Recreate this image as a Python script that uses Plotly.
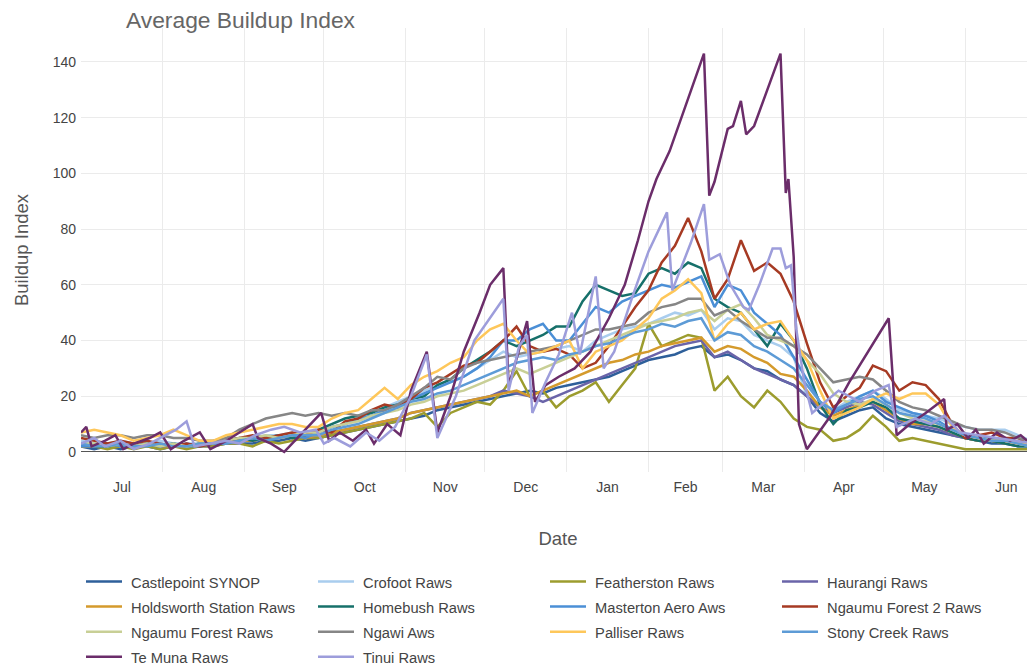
import pandas as pd
import plotly.graph_objects as go

# ---------------- data ----------------
start_date = "2018-07-01"
step = "5D"
n_points = 73

castlepoint = [2,1,2,1,2,2,1,2,2,2,2,3,3,3,4,4,5,4,5,6,7,8,9,10,11,12,13,15,16,17,18,19,20,21,22,21,23,24,25,26,27,29,31,33,34,35,37,38,34,35,33,30,29,26,24,20,14,11,13,15,16,12,10,9,8,7,6,5,4,3,3,2,2]
crofoot = [4,3,3,4,3,3,4,3,3,3,3,4,5,5,6,6,7,6,7,9,10,12,14,16,18,20,22,24,25,27,30,33,36,34,35,36,37,38,36,40,42,44,45,46,48,50,49,51,44,48,47,42,40,38,34,20,17,15,18,20,22,19,15,14,13,12,10,9,8,8,8,6,4]
featherston = [2,2,1,2,1,2,1,2,1,2,2,3,3,2,4,3,4,5,5,6,7,8,9,10,11,12,14,9,14,16,18,17,22,29,20,22,16,20,22,25,18,24,30,46,38,40,42,41,22,27,20,16,22,18,12,9,8,4,5,8,13,9,4,5,4,3,2,1,1,1,1,1,1]
haurangi = [3,2,3,2,2,3,2,2,3,2,3,3,4,4,5,5,6,5,6,7,8,9,10,11,12,14,15,16,17,18,19,20,22,21,20,18,20,22,24,26,28,30,32,34,36,38,39,40,34,36,33,30,28,26,24,20,16,14,16,18,17,14,11,10,9,8,6,5,4,4,3,3,2]
holdsworth = [2,2,3,2,2,3,2,2,2,3,3,3,4,4,5,5,6,5,6,7,8,9,10,11,12,14,15,16,17,18,19,20,21,22,20,22,24,26,28,30,32,33,35,36,38,39,40,41,36,38,37,34,32,28,27,22,16,13,15,17,18,15,12,10,10,9,7,5,4,4,3,3,2]
homebush = [3,2,2,3,2,3,2,3,2,3,3,4,5,4,5,6,5,6,8,10,12,13,14,16,17,19,20,24,26,30,33,36,40,38,40,42,45,45,54,60,58,56,57,64,66,64,68,66,55,52,50,44,38,46,40,30,17,10,15,16,18,16,12,11,10,9,7,5,4,4,3,2,2]
masterton = [2,2,3,2,2,3,2,3,2,2,3,3,4,5,5,6,6,5,7,9,10,12,13,15,17,19,21,23,25,27,30,34,40,40,44,46,40,40,46,52,50,54,56,58,60,59,61,63,52,60,58,50,46,42,34,26,18,14,17,20,22,18,16,14,13,11,8,6,5,5,4,3,2]
ngaumu2 = [5,4,3,4,3,4,3,2,3,2,3,4,5,6,5,6,7,6,8,7,11,12,15,17,16,19,23,25,28,31,32,36,40,45,38,36,37,35,30,32,38,45,52,58,68,74,84,72,55,62,76,65,68,64,54,39,25,16,20,23,31,29,22,25,24,19,10,5,6,7,5,5,2]
ngaumu = [3,3,2,3,2,3,2,3,2,3,3,4,5,5,6,5,6,7,7,9,10,11,13,14,15,17,18,20,21,22,24,26,28,30,28,30,32,34,36,38,40,42,44,46,47,48,50,51,47,51,53,48,42,40,38,33,28,21,18,17,19,17,14,12,11,10,8,6,5,4,4,3,2]
ngawi = [6,5,6,6,5,6,6,5,5,4,4,5,8,10,12,13,14,13,14,13,14,13,15,15,17,20,23,27,26,30,32,33,34,35,36,37,38,40,42,44,44,45,46,50,52,53,55,55,49,51,47,44,41,41,38,35,30,25,26,27,26,22,18,16,15,13,11,9,8,8,7,5,4]
palliser = [7,8,7,6,4,5,6,8,6,4,4,6,7,8,9,10,10,9,9,12,14,15,19,23,19,24,27,29,32,34,40,44,46,40,35,36,38,40,30,36,38,40,44,48,55,58,62,57,40,46,50,44,46,47,40,33,22,12,14,16,19,21,19,21,21,17,9,6,5,4,4,3,3]
stony_creek = [3,2,2,3,2,2,3,2,2,3,3,3,4,5,4,5,6,6,6,8,9,10,12,14,16,18,19,21,22,24,26,28,30,32,33,34,33,35,36,38,39,41,43,44,46,45,47,48,40,43,42,38,36,33,30,24,18,15,17,19,20,17,14,13,12,10,8,6,5,4,4,3,2]

te_muna_dates = ["2018-07-01","2018-07-03","2018-07-05","2018-07-10","2018-07-14","2018-07-17","2018-07-21","2018-07-27","2018-07-31","2018-08-04","2018-08-09","2018-08-15","2018-08-19","2018-08-25","2018-08-30","2018-09-04","2018-09-06","2018-09-11","2018-09-16","2018-09-22","2018-09-30","2018-10-03","2018-10-07","2018-10-12","2018-10-17","2018-10-20","2018-10-25","2018-10-30","2018-11-03","2018-11-09","2018-11-13","2018-11-18","2018-11-23","2018-11-29","2018-12-03","2018-12-08","2018-12-10","2018-12-12","2018-12-17","2018-12-20","2018-12-24","2018-12-29","2019-01-04","2019-01-10","2019-01-17","2019-01-23","2019-01-28","2019-02-01","2019-02-04","2019-02-09","2019-02-17","2019-02-22","2019-02-24","2019-02-26","2019-03-03","2019-03-05","2019-03-08","2019-03-10","2019-03-13","2019-03-18","2019-03-23","2019-03-25","2019-03-26","2019-03-28","2019-03-30","2019-04-02","2019-04-05","2019-04-11","2019-04-18","2019-04-26","2019-05-03","2019-05-06","2019-05-11","2019-05-17","2019-05-24","2019-05-25","2019-05-29","2019-06-02","2019-06-05","2019-06-08","2019-06-13","2019-06-18","2019-06-22","2019-06-27"]
te_muna = [7,9,2,4,6,1,3,5,7,1,4,7,1,4,7,10,5,3,0,6,14,4,7,4,8,3,10,6,22,36,7,20,36,50,60,66,24,30,47,18,24,27,30,36,48,60,76,90,98,108,130,143,92,97,116,117,126,114,117,130,143,93,98,70,10,1,5,13,25,37,48,6,10,14,19,8,10,5,8,3,7,4,6,2]

tinui_dates = ["2018-07-01","2018-07-06","2018-07-10","2018-07-16","2018-07-21","2018-07-27","2018-08-02","2018-08-06","2018-08-10","2018-08-13","2018-08-19","2018-08-25","2018-08-30","2018-09-05","2018-09-11","2018-09-16","2018-09-22","2018-09-28","2018-10-01","2018-10-05","2018-10-11","2018-10-17","2018-10-22","2018-10-28","2018-11-03","2018-11-09","2018-11-13","2018-11-20","2018-11-27","2018-12-03","2018-12-08","2018-12-10","2018-12-14","2018-12-17","2018-12-19","2018-12-24","2018-12-29","2019-01-03","2019-01-06","2019-01-12","2019-01-15","2019-01-19","2019-01-26","2019-02-01","2019-02-08","2019-02-10","2019-02-17","2019-02-22","2019-02-24","2019-02-28","2019-03-04","2019-03-09","2019-03-11","2019-03-15","2019-03-20","2019-03-23","2019-03-25","2019-03-27","2019-03-29","2019-04-01","2019-04-04","2019-04-09","2019-04-14","2019-04-22","2019-04-28","2019-05-03","2019-05-06","2019-05-13","2019-05-19","2019-05-24","2019-05-30","2019-06-06","2019-06-14","2019-06-20","2019-06-27"]
tinui = [3,5,2,4,1,3,6,8,11,2,3,4,3,6,8,9,7,8,3,5,2,7,4,9,20,35,5,20,40,48,55,22,38,42,14,25,35,50,35,63,30,36,56,72,86,58,75,89,69,71,60,52,51,60,73,73,66,67,44,25,14,18,22,18,22,24,9,12,10,13,7,6,5,4,3]

series_names = ["Castlepoint SYNOP","Crofoot Raws","Featherston Raws","Haurangi Raws",
                "Holdsworth Station Raws","Homebush Raws","Masterton Aero Aws","Ngaumu Forest 2 Raws",
                "Ngaumu Forest Raws","Ngawi Aws","Palliser Raws","Stony Creek Raws",
                "Te Muna Raws","Tinui Raws"]
series_colors = ["#2e5f9a","#a9cdee","#9c9c2e","#6a64a9",
                 "#d49a2c","#16706a","#4b8fd6","#a63a23",
                 "#c8cf96","#868686","#fec75a","#5d9bd6",
                 "#6b2d6a","#9d9ddb"]

# ---------------- figure ----------------
grid_dates = pd.date_range(start_date, periods=n_points, freq=step)
regular = [castlepoint, crofoot, featherston, haurangi, holdsworth, homebush,
           masterton, ngaumu2, ngaumu, ngawi, palliser, stony_creek]

def legend_label(name):
    return '<span style="font-size:14.7px">&nbsp;' + name + '</span>'

fig = go.Figure()
for name, color, vals in zip(series_names[:12], series_colors[:12], regular):
    fig.add_trace(go.Scatter(x=grid_dates, y=vals, mode="lines", name=legend_label(name),
                             line=dict(color=color, width=2.5)))
fig.add_trace(go.Scatter(x=pd.to_datetime(te_muna_dates), y=te_muna, mode="lines",
                         name=legend_label(series_names[12]),
                         line=dict(color=series_colors[12], width=2.5)))
fig.add_trace(go.Scatter(x=pd.to_datetime(tinui_dates), y=tinui, mode="lines",
                         name=legend_label(series_names[13]),
                         line=dict(color=series_colors[13], width=2.5)))

W, H = 1027, 663
font_family = "Arial, Liberation Sans, sans-serif"
fig.update_layout(
    width=W, height=H,
    margin=dict(l=73, r=0, t=20, b=199, autoexpand=False),
    paper_bgcolor="white", plot_bgcolor="white",
    font=dict(family=font_family, size=14, color="#444"),
    title=dict(text="Average Buildup Index", x=118/W, xanchor="left",
               xref="container", y=1-12/H, yref="container", yanchor="middle",
               font=dict(size=22.8, color="#666")),
    xaxis=dict(type="date", range=["2018-07-01", "2019-06-27 10:00"],
               dtick="M1", tick0="2018-07-01", ticklabelmode="period", tickformat="%b",
               showgrid=True, gridcolor="#ebebeb", gridwidth=1, zeroline=False,
               showline=False, ticks="", ticklabelstandoff=5,
               tickfont=dict(size=14, color="#444"),
               title=dict(text="Date", font=dict(size=18.5, color="#555"), standoff=38)),
    yaxis=dict(range=[-7.2, 152.2], dtick=20, showgrid=True, gridcolor="#ebebeb",
               zeroline=True, zerolinecolor="#555", zerolinewidth=1,
               tickfont=dict(size=14, color="#444"), ticks="", ticklabelstandoff=4,
               title=dict(text="Buildup Index", font=dict(size=18.5, color="#555"), standoff=19)),
    legend=dict(orientation="h", x=0, xanchor="left", y=-0.207, yanchor="top",
                entrywidth=181, entrywidthmode="pixels", itemwidth=36,
                font=dict(size=17, color="#444")),
    showlegend=True,
)

fig.write_html("out.html")
